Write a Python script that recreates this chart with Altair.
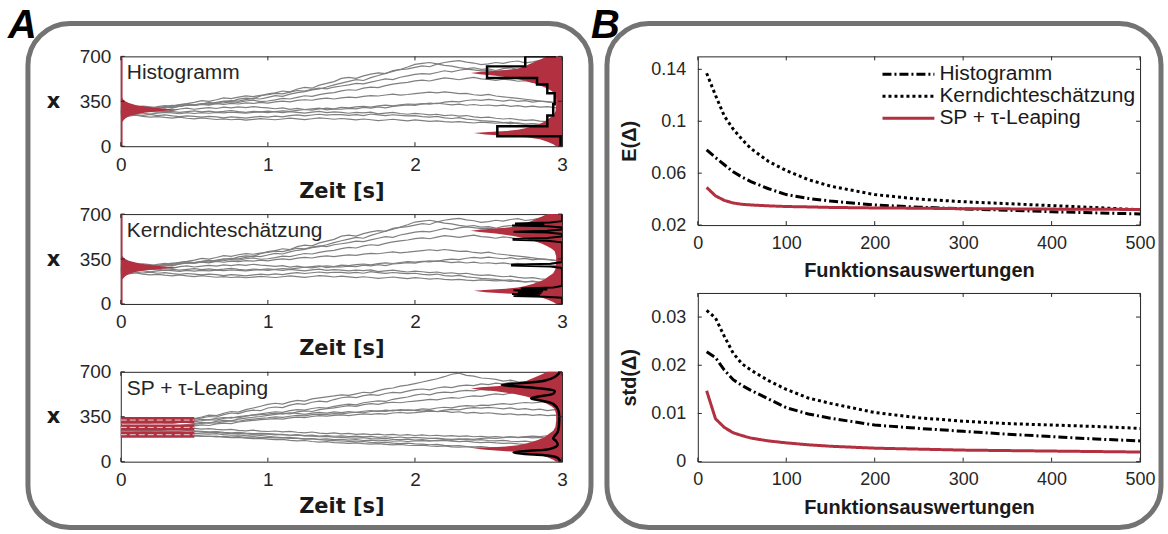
import altair as alt
import pandas as pd

# ---------------------------------------------------------------- colours
GRAY = "#7f7f7f"
RED = "#b2303f"
INK = "#262626"
FRAME = "#737373"

# ------------------------------------------------- panel A: sample paths
# x(t) of single runs, sampled on an even grid from 0 s to 3 s (61 samples)
paths_hist_kde = [
    [280, 286, 279, 292, 300, 295, 307, 301, 312, 318, 322, 330, 326, 341, 352, 348, 367, 375, 371, 392, 408,
     415, 430, 424, 446, 458, 452, 476, 489, 503, 528, 536, 529, 548, 562, 571, 566, 589, 597, 603, 614,
     626, 619, 640, 652, 661, 667, 655, 648, 636, 641, 652, 646, 658, 664, 650, 657, 669, 661, 648, 655],
    [275, 270, 284, 291, 286, 299, 305, 296, 311, 322, 318, 329, 337, 332, 348, 355, 351, 363, 372, 368, 381,
     394, 389, 406, 418, 425, 439, 446, 461, 478, 492, 505, 518, 512, 534, 551, 567, 583, 598, 617, 638,
     645, 652, 641, 630, 624, 612, 605, 611, 598, 602, 590, 604, 611, 597, 606, 618, 624, 612, 608, 615],
    [270, 276, 268, 281, 290, 303, 297, 314, 325, 332, 341, 355, 349, 362, 377, 371, 383, 392, 387, 396, 401,
     412, 408, 421, 434, 429, 443, 452, 447, 461, 469, 478, 490, 486, 499, 512, 524, 519, 537, 548, 559,
     566, 561, 574, 588, 579, 592, 601, 594, 587, 590, 581, 588, 576, 569, 578, 565, 558, 571, 563, 560],
    [290, 284, 296, 302, 295, 309, 316, 308, 322, 329, 323, 331, 340, 334, 338, 346, 341, 352, 359, 348, 352,
     361, 372, 368, 381, 393, 389, 402, 411, 418, 431, 440, 436, 452, 461, 457, 472, 483, 491, 498, 509,
     515, 508, 521, 532, 526, 518, 529, 536, 524, 520, 512, 523, 517, 506, 511, 498, 504, 493, 499, 496],
    [300, 296, 305, 312, 306, 299, 310, 318, 313, 322, 317, 326, 320, 331, 325, 334, 329, 338, 333, 342, 336,
     345, 351, 346, 357, 362, 358, 369, 374, 368, 377, 383, 379, 388, 394, 391, 399, 405, 398, 403, 410,
     416, 422, 415, 424, 418, 409, 412, 401, 396, 404, 391, 385, 379, 372, 366, 359, 351, 347, 340, 336],
    [260, 266, 258, 271, 279, 273, 284, 277, 290, 296, 288, 295, 301, 294, 305, 298, 306, 300, 309, 302, 298,
     292, 299, 287, 294, 286, 291, 297, 283, 290, 288, 295, 291, 302, 297, 306, 299, 311, 316, 322, 318,
     329, 336, 331, 343, 349, 345, 356, 362, 357, 365, 358, 352, 360, 349, 355, 344, 351, 346, 339, 344],
    [270, 264, 272, 278, 271, 266, 274, 269, 263, 270, 275, 268, 273, 266, 271, 278, 270, 264, 272, 267, 273,
     268, 261, 270, 264, 258, 266, 271, 262, 268, 263, 257, 264, 259, 266, 252, 258, 263, 255, 249, 256,
     251, 244, 249, 238, 243, 234, 239, 228, 222, 226, 218, 212, 216, 207, 201, 205, 196, 191, 186, 182],
    [250, 255, 247, 241, 248, 239, 244, 236, 230, 237, 232, 226, 233, 228, 221, 229, 224, 219, 226, 232, 227,
     234, 229, 238, 244, 237, 243, 249, 242, 247, 246, 240, 246, 239, 251, 244, 238, 245, 240, 236, 239,
     231, 227, 233, 221, 216, 222, 211, 206, 199, 195, 191, 184, 187, 176, 171, 175, 164, 160, 154, 150],
    [240, 234, 241, 233, 226, 231, 224, 219, 226, 218, 213, 220, 214, 208, 213, 206, 211, 204, 209, 215, 210,
     206, 212, 219, 213, 207, 214, 221, 216, 210, 216, 211, 205, 212, 206, 199, 204, 210, 203, 197, 205,
     200, 194, 198, 191, 187, 192, 185, 181, 188, 184, 179, 183, 176, 181, 172, 177, 170, 174, 168, 175],
    [260, 256, 263, 257, 251, 258, 264, 259, 253, 261, 255, 262, 257, 264, 259, 266, 261, 257, 263, 268, 262,
     270, 276, 271, 279, 286, 281, 290, 296, 291, 302, 298, 306, 311, 305, 314, 320, 315, 323, 329, 326,
     332, 327, 335, 329, 322, 328, 319, 325, 317, 321, 314, 320, 311, 316, 307, 312, 304, 309, 301, 302],
]

paths_sp = [
    [324, 326, 322, 327, 325, 321, 328, 324, 330, 327, 332, 341, 352, 348, 366, 379, 374, 392, 401, 397, 418,
     426, 421, 440, 452, 447, 463, 471, 466, 484, 498, 505, 499, 514, 522, 517, 531, 540, 536, 549, 561,
     566, 559, 574, 582, 577, 590, 597, 593, 606, 601, 612, 606, 619, 611, 624, 617, 629, 620, 615, 625],
    [324, 321, 326, 323, 328, 325, 321, 327, 324, 331, 336, 348, 362, 359, 377, 391, 386, 405, 418, 432, 447,
     455, 449, 466, 478, 472, 489, 497, 505, 512, 521, 516, 528, 541, 536, 553, 567, 574, 588, 596, 608,
     621, 633, 646, 662, 681, 690, 673, 666, 652, 648, 641, 628, 635, 622, 617, 626, 614, 609, 618, 610],
    [300, 303, 298, 302, 306, 301, 304, 299, 305, 308, 312, 319, 328, 324, 337, 346, 341, 355, 364, 372, 381,
     389, 384, 398, 406, 401, 414, 422, 418, 431, 440, 448, 443, 459, 467, 474, 469, 486, 495, 504, 519,
     527, 521, 536, 542, 538, 549, 555, 551, 562, 559, 571, 584, 579, 596, 604, 611, 623, 619, 632, 640],
    [267, 270, 265, 269, 273, 268, 272, 276, 281, 289, 298, 306, 301, 314, 322, 318, 331, 339, 346, 352, 361,
     369, 376, 372, 388, 395, 391, 406, 413, 419, 428, 436, 431, 445, 452, 447, 458, 463, 459, 467, 472,
     478, 485, 481, 492, 499, 494, 506, 513, 509, 521, 528, 523, 534, 541, 537, 529, 544, 551, 546, 550],
    [300, 297, 301, 296, 299, 303, 298, 301, 307, 314, 321, 329, 325, 338, 344, 340, 351, 357, 362, 366, 371,
     378, 373, 381, 376, 369, 378, 384, 379, 388, 382, 390, 385, 393, 398, 392, 401, 396, 405, 399, 402,
     411, 407, 418, 424, 419, 431, 436, 432, 441, 438, 446, 452, 447, 455, 461, 457, 464, 469, 463, 470],
    [267, 265, 269, 266, 270, 264, 268, 271, 276, 282, 291, 298, 304, 301, 312, 318, 315, 326, 331, 337, 342,
     349, 345, 354, 361, 357, 366, 371, 368, 374, 372, 379, 385, 381, 391, 396, 392, 401, 398, 404, 399,
     394, 401, 389, 393, 384, 389, 378, 384, 376, 381, 375, 368, 373, 365, 369, 361, 366, 358, 362, 360],
    [240, 243, 238, 242, 245, 241, 247, 252, 259, 268, 279, 286, 282, 294, 301, 297, 309, 316, 321, 327, 331,
     336, 332, 341, 347, 343, 352, 358, 355, 361, 364, 359, 366, 372, 368, 375, 371, 379, 383, 378, 382,
     388, 394, 391, 402, 408, 404, 415, 421, 417, 423, 418, 412, 419, 408, 413, 404, 409, 398, 405, 400],
    [267, 269, 264, 268, 266, 262, 267, 264, 260, 263, 259, 254, 258, 251, 247, 252, 244, 240, 245, 238, 235,
     239, 232, 236, 229, 225, 231, 223, 219, 224, 216, 220, 213, 217, 211, 215, 208, 213, 206, 210, 204,
     209, 202, 206, 199, 203, 197, 201, 194, 198, 192, 196, 190, 194, 187, 191, 185, 189, 182, 187, 184],
    [240, 237, 242, 238, 236, 241, 238, 235, 239, 243, 240, 236, 232, 235, 228, 225, 229, 222, 218, 221, 219,
     214, 210, 206, 209, 201, 198, 194, 197, 191, 189, 186, 183, 187, 180, 177, 181, 174, 171, 175, 168,
     172, 165, 162, 166, 159, 156, 160, 153, 149, 152, 146, 142, 145, 138, 134, 131, 127, 129, 123, 120],
    [210, 213, 208, 211, 215, 210, 214, 217, 213, 218, 221, 217, 214, 218, 211, 206, 209, 203, 199, 204, 198,
     192, 187, 189, 181, 176, 179, 171, 167, 164, 161, 158, 154, 157, 150, 147, 151, 144, 141, 145, 139,
     136, 132, 135, 127, 123, 126, 118, 115, 117, 111, 107, 110, 103, 100, 104, 97, 94, 98, 92, 90],
    [210, 207, 211, 208, 205, 209, 206, 203, 207, 204, 206, 201, 196, 199, 191, 187, 190, 183, 179, 182, 176,
     171, 174, 166, 162, 165, 157, 153, 156, 149, 146, 143, 147, 140, 137, 141, 134, 131, 135, 128, 126,
     129, 122, 119, 123, 116, 113, 117, 110, 107, 104, 101, 97, 100, 93, 90, 93, 86, 84, 87, 81],
    [240, 243, 239, 236, 240, 237, 233, 238, 234, 231, 235, 230, 226, 229, 222, 219, 223, 216, 212, 217, 214,
     209, 212, 206, 209, 203, 207, 200, 204, 198, 201, 196, 199, 193, 197, 190, 194, 188, 192, 186, 190,
     185, 181, 184, 177, 174, 178, 171, 168, 172, 165, 162, 166, 159, 156, 160, 153, 157, 150, 154, 151],
    [210, 206, 212, 207, 203, 208, 204, 199, 203, 198, 201, 196, 199, 193, 197, 191, 195, 189, 193, 187, 190,
     185, 188, 181, 184, 177, 180, 174, 177, 171, 173, 168, 171, 165, 168, 162, 166, 159, 163, 157, 161,
     164, 160, 167, 171, 166, 174, 178, 173, 181, 185, 182, 188, 193, 189, 196, 199, 195, 202, 198, 205],
]

# initial density (drawn rightwards from t = 0), width in seconds
start_x = [0, 190, 205, 220, 235, 248, 260, 270, 278, 285, 292, 300, 310, 322, 336, 350, 365, 380, 700]
start_w = [0.012, 0.012, 0.02, 0.035, 0.06, 0.1, 0.16, 0.24, 0.32, 0.4, 0.3, 0.23, 0.16, 0.1, 0.055, 0.03, 0.015, 0.012, 0.012]

# reference density at t = 3 s (drawn leftwards), width in seconds
end_x = [0, 15, 35, 55, 70, 82, 92, 102, 110, 118, 128, 140, 155, 170, 190, 215, 240, 270, 320, 370,
         410, 430, 450, 470, 490, 510, 530, 548, 560, 570, 580, 592, 605, 620, 640, 660, 680, 700]
end_w = [0.04, 0.06, 0.1, 0.15, 0.24, 0.38, 0.52, 0.6, 0.5, 0.38, 0.3, 0.25, 0.2, 0.16, 0.12, 0.09, 0.06, 0.045, 0.04, 0.04,
         0.05, 0.07, 0.1, 0.14, 0.19, 0.25, 0.33, 0.45, 0.56, 0.62, 0.55, 0.4, 0.3, 0.26, 0.22, 0.18, 0.14, 0.1]

# histogram estimate at t = 3 s: bin edges and bar lengths (s)
hist_edges = [0, 78, 156, 240, 326, 412, 480, 532, 622, 700, 720]
hist_w = [0.01, 0.44, 0.1, 0.06, 0.05, 0.1, 0.17, 0.51, 0.25, 0.05]

# kernel density estimate (narrow bandwidth) at t = 3 s
kde_x = [0, 48, 56, 62, 70, 77, 84, 92, 99, 106, 113, 120, 128, 140, 280, 292, 300, 306, 314, 326,
         480, 492, 500, 507, 514, 526, 545, 556, 563, 570, 580, 596, 605, 612, 619, 626, 634, 645, 700]
kde_w = [0, 0, 0.12, 0.33, 0.15, 0.34, 0.14, 0.3, 0.13, 0.33, 0.1, 0.28, 0.06, 0, 0, 0.08, 0.34, 0.34, 0.08, 0,
         0, 0.1, 0.33, 0.33, 0.1, 0, 0, 0.1, 0.33, 0.1, 0, 0, 0.1, 0.34, 0.12, 0.32, 0.08, 0, 0]

# density from sigma points + tau-leaping at t = 3 s
sp_x = [0, 30, 50, 60, 72, 85, 100, 130, 160, 180, 200, 230, 300, 400, 450, 475, 493, 510, 530, 550,
        570, 585, 597, 610, 630, 660, 690, 700]
sp_w = [0.01, 0.03, 0.12, 0.25, 0.33, 0.22, 0.08, 0.03, 0.04, 0.06, 0.05, 0.03, 0.02, 0.025, 0.06, 0.14, 0.21, 0.15, 0.06, 0.05,
        0.14, 0.3, 0.41, 0.3, 0.12, 0.05, 0.02, 0.015]

# sigma points held until the first leap
sp_levels = [324, 267, 210]
sp_hold = 0.5

panel_names = ["Histogramm", "Kerndichteschätzung", "SP + τ-Leaping"]

# ------------------------------------------------ panel B: error curves
n_evals = [10, 20, 30, 40, 50, 60, 80, 100, 125, 150, 200, 250, 300, 350, 400, 450, 500]
mean_hist = [0.078, 0.072, 0.0665, 0.061, 0.057, 0.0535, 0.048, 0.0435, 0.0405, 0.0385, 0.0355, 0.0338, 0.0325, 0.0315, 0.0303, 0.0294, 0.0286]
mean_kde = [0.137, 0.120, 0.104, 0.094, 0.086, 0.079, 0.069, 0.062, 0.055, 0.050, 0.0435, 0.040, 0.038, 0.0365, 0.035, 0.0335, 0.0318]
mean_sp = [0.049, 0.0425, 0.039, 0.037, 0.036, 0.0355, 0.0348, 0.0343, 0.034, 0.0336, 0.0332, 0.033, 0.0326, 0.0325, 0.0323, 0.0322, 0.032]
std_hist = [0.0228, 0.0216, 0.019, 0.017, 0.0158, 0.0148, 0.013, 0.0112, 0.0099, 0.009, 0.0076, 0.0069, 0.0063, 0.0057, 0.0052, 0.0047, 0.0043]
std_kde = [0.0314, 0.0298, 0.026, 0.0225, 0.0203, 0.019, 0.0168, 0.015, 0.0132, 0.0121, 0.0102, 0.0091, 0.0084, 0.0079, 0.0076, 0.0073, 0.0069]
std_sp = [0.0147, 0.0089, 0.0071, 0.006, 0.0054, 0.0049, 0.0043, 0.0039, 0.0035, 0.0032, 0.0028, 0.0026, 0.0024, 0.0023, 0.0022, 0.0021, 0.002]

series_names = ["Histogramm", "Kerndichteschätzung", "SP + τ-Leaping"]
series_colors = ["#000000", "#000000", RED]
series_dash = [[9, 3, 2, 3], [3, 3], [1, 0]]

# ---------------------------------------------------------------- sizes
T_END = 3.0
WA, HA = 442, 90
WB, HB = 443, 169
TICK = 4

xs_a = alt.Scale(domain=[0, T_END], nice=False, zero=False)
ys_a = alt.Scale(domain=[0, 700], nice=False, zero=False)
xs_b = alt.Scale(domain=[0, 500], nice=False, zero=False)

one = pd.DataFrame({"k": [0]})


def paths_frame(paths):
    rows = []
    for run, vals in enumerate(paths):
        n = len(vals)
        for i, v in enumerate(vals):
            rows.append({"run": run, "t": T_END * i / (n - 1), "x": v})
    return pd.DataFrame(rows)


def density_frame(vals, widths, from_end):
    if from_end:
        return pd.DataFrame({"v": vals, "lo": [T_END - w for w in widths], "hi": [T_END] * len(vals)})
    return pd.DataFrame({"v": vals, "lo": [0.0] * len(vals), "hi": widths})


def outline_frame(vals, widths):
    return pd.DataFrame({"v": vals, "t": [T_END - w for w in widths], "k": range(len(vals))})


def hist_frame(edges, widths):
    rows = []
    for i, w in enumerate(widths):
        rows.append({"t": T_END - w, "v": edges[i]})
        rows.append({"t": T_END - w, "v": edges[i + 1]})
    df = pd.DataFrame(rows)
    df["k"] = range(len(df))
    return df


def a_axes():
    ax = alt.Axis(values=[0, 1, 2, 3], format="d", title="Zeit [s]", grid=False, domain=False,
                  ticks=False, labelFlush=False, labelFont="Liberation Sans",
                  labelFontSize=19, labelColor=INK, labelPadding=9,
                  titleFont="DejaVu Sans", titleFontWeight="bold", titleFontSize=21,
                  titleColor="#1a1a1a", titleY=45, titleBaseline="middle")
    ay = alt.Axis(values=[0, 350, 700], format="d", title="x", grid=False, domain=False,
                  ticks=False, labelFont="Liberation Sans", labelFontSize=19,
                  labelColor=INK, labelPadding=10,
                  titleFont="DejaVu Sans", titleFontWeight="bold", titleFontSize=21,
                  titleColor="#1a1a1a", titleAngle=0, titleX=-68, titleY=HA / 2,
                  titleAlign="center", titleBaseline="middle")
    return ax, ay


AX_A, AY_A = a_axes()


def inward_ticks(xvals, yvals, xe, ye, w, h):
    xt = alt.Chart(pd.DataFrame({"v": xvals})).mark_rule(color=INK, strokeWidth=1)
    yt = alt.Chart(pd.DataFrame({"v": yvals})).mark_rule(color=INK, strokeWidth=1)
    return [
        xt.encode(x=xe("v"), y=alt.value(h), y2=alt.value(h - TICK)),
        xt.encode(x=xe("v"), y=alt.value(0), y2=alt.value(TICK)),
        yt.encode(y=ye("v"), x=alt.value(0), x2=alt.value(TICK)),
        yt.encode(y=ye("v"), x=alt.value(w - TICK), x2=alt.value(w)),
    ]


def xa(field):
    return alt.X(f"{field}:Q", scale=xs_a, axis=AX_A)


def ya(field):
    return alt.Y(f"{field}:Q", scale=ys_a, axis=AY_A)


def gray_paths(paths):
    return alt.Chart(paths_frame(paths)).mark_line(color=GRAY, strokeWidth=1.2).encode(
        x=xa("t"), y=ya("x"), detail="run:N")


def red_area(df):
    return alt.Chart(df).mark_area(orient="horizontal", color=RED, opacity=1).encode(
        y=ya("v"), x=xa("lo"), x2="hi:Q")


def black_path(df, width, interp="linear"):
    return alt.Chart(df).mark_line(color="#000000", strokeWidth=width, clip=True, interpolate=interp).encode(
        x=xa("t"), y=ya("v"), order="k:Q")


def panel_label(text):
    return alt.Chart(one).mark_text(text=text, font="Liberation Sans", fontSize=21, color=INK,
                                    align="left", baseline="middle").encode(
        x=alt.value(6), y=alt.value(17))


start_df = density_frame(start_x, start_w, from_end=False)
end_df = density_frame(end_x, end_w, from_end=True)

# page decoration, drawn in the first panel's coordinates (origin at its plot corner)
canvas = alt.Chart(one).mark_rect(opacity=0).encode(
    x=alt.value(-120), x2=alt.value(1048), y=alt.value(-55), y2=alt.value(479))
frame_a = alt.Chart(one).mark_rect(fillOpacity=0, stroke=FRAME, strokeWidth=5, cornerRadius=42).encode(
    x=alt.value(-93), x2=alt.value(471), y=alt.value(-33), y2=alt.value(472))
frame_b = alt.Chart(one).mark_rect(fillOpacity=0, stroke=FRAME, strokeWidth=5, cornerRadius=42).encode(
    x=alt.value(487), x2=alt.value(1042), y=alt.value(-33), y2=alt.value(472))
letter_a = alt.Chart(one).mark_text(text="A", font="Liberation Sans", fontSize=40, fontWeight="bold",
                                    fontStyle="italic", color="#000000", align="left",
                                    baseline="alphabetic").encode(x=alt.value(-113), y=alt.value(-18))
letter_b = alt.Chart(one).mark_text(text="B", font="Liberation Sans", fontSize=40, fontWeight="bold",
                                    fontStyle="italic", color="#000000", align="left",
                                    baseline="alphabetic").encode(x=alt.value(471), y=alt.value(-18))


def a_ticks():
    return inward_ticks([0, 1, 2, 3], [0, 350, 700], xa, ya, WA, HA)


a1 = alt.layer(
    canvas, frame_a, frame_b, letter_a, letter_b,
    gray_paths(paths_hist_kde),
    red_area(start_df), red_area(end_df),
    black_path(hist_frame(hist_edges, hist_w), 2.5),
    *a_ticks(),
    panel_label(panel_names[0]),
).properties(width=WA, height=HA)

a2 = alt.layer(
    gray_paths(paths_hist_kde),
    red_area(start_df), red_area(end_df),
    black_path(outline_frame(kde_x, kde_w), 2),
    *a_ticks(),
    panel_label(panel_names[1]),
).properties(width=WA, height=HA)

# sigma points: thick red holds with the run continuing through them
sp_df = pd.DataFrame({"v": sp_levels, "t0": [0.0] * len(sp_levels), "t1": [sp_hold] * len(sp_levels)})
sp_bands = alt.Chart(sp_df).mark_rule(color=RED, strokeWidth=6).encode(x=xa("t0"), x2="t1:Q", y=ya("v"))
sp_core = alt.Chart(sp_df).mark_rule(color="#d9d9d9", strokeWidth=1, strokeDash=[6, 3]).encode(
    x=xa("t0"), x2="t1:Q", y=ya("v"))

a3 = alt.layer(
    gray_paths(paths_sp),
    sp_bands, sp_core,
    red_area(end_df),
    black_path(outline_frame(sp_x, sp_w), 2.5, "catmull-rom"),
    *a_ticks(),
    panel_label(panel_names[2]),
).properties(width=WA, height=HA)


# ---------------------------------------------------------------- panel B
def b_panel(series, ydomain, yvals, ytitle, with_legend):
    ys = alt.Scale(domain=ydomain, nice=False, zero=False)
    ax = alt.Axis(values=[0, 100, 200, 300, 400, 500], format="d", title="Funktionsauswertungen",
                  grid=False, domain=False, ticks=False, labelFlush=False,
                  labelFont="Liberation Sans", labelFontSize=18, labelColor=INK, labelPadding=9,
                  titleFont="Liberation Sans", titleFontWeight="bold", titleFontSize=20,
                  titleColor="#1a1a1a", titleY=46, titleBaseline="middle")
    ay = alt.Axis(values=yvals, format=".2~f", title=ytitle, grid=False, domain=False,
                  ticks=False, labelFont="Liberation Sans", labelFontSize=18,
                  labelColor=INK, labelPadding=12,
                  titleFont="Liberation Sans", titleFontWeight="bold", titleFontSize=20,
                  titleColor="#1a1a1a", titleAngle=270, titleX=-68, titleY=HB / 2,
                  titleAlign="center", titleBaseline="middle")

    def xb(field):
        return alt.X(f"{field}:Q", scale=xs_b, axis=ax)

    def yb(field):
        return alt.Y(f"{field}:Q", scale=ys, axis=ay)

    layers = []
    for i, vals in enumerate(series):
        df = pd.DataFrame({"n": n_evals, "val": vals})
        layers.append(
            alt.Chart(df).mark_line(color=series_colors[i], strokeWidth=3, strokeDash=series_dash[i],
                                    strokeCap="butt").encode(x=xb("n"), y=yb("val"))
        )
    layers += inward_ticks([0, 100, 200, 300, 400, 500], yvals, xb, yb, WB, HB)
    if with_legend:
        for i, name in enumerate(series_names):
            row_y = 18 + 22 * i
            layers.append(alt.Chart(one).mark_rule(color=series_colors[i], strokeWidth=3,
                                                   strokeDash=series_dash[i], strokeCap="butt").encode(
                x=alt.value(185), x2=alt.value(237), y=alt.value(row_y)))
            layers.append(alt.Chart(one).mark_text(text=name, font="Liberation Sans", fontSize=21,
                                                   color="#1a1a1a", align="left", baseline="middle").encode(
                x=alt.value(242), y=alt.value(row_y)))
    return alt.layer(*layers).properties(width=WB, height=HB)


b1 = b_panel([mean_hist, mean_kde, mean_sp], [0.02, 0.15], [0.02, 0.06, 0.1, 0.14], "E(Δ)", True)
b2 = b_panel([std_hist, std_kde, std_sp], [0, 0.035], [0, 0.01, 0.02, 0.03], "std(Δ)", False)

col_a = alt.vconcat(a1, a2, a3, spacing=68, bounds="flush")
col_b = alt.vconcat(b1, b2, spacing=68, bounds="flush")

chart = alt.hconcat(col_a, col_b, spacing=578, bounds="flush").properties(
    padding=0, background="white"
).configure_view(
    stroke=INK, strokeWidth=1
)

chart.save("out.html", embed_options={"renderer": "svg", "actions": False})
